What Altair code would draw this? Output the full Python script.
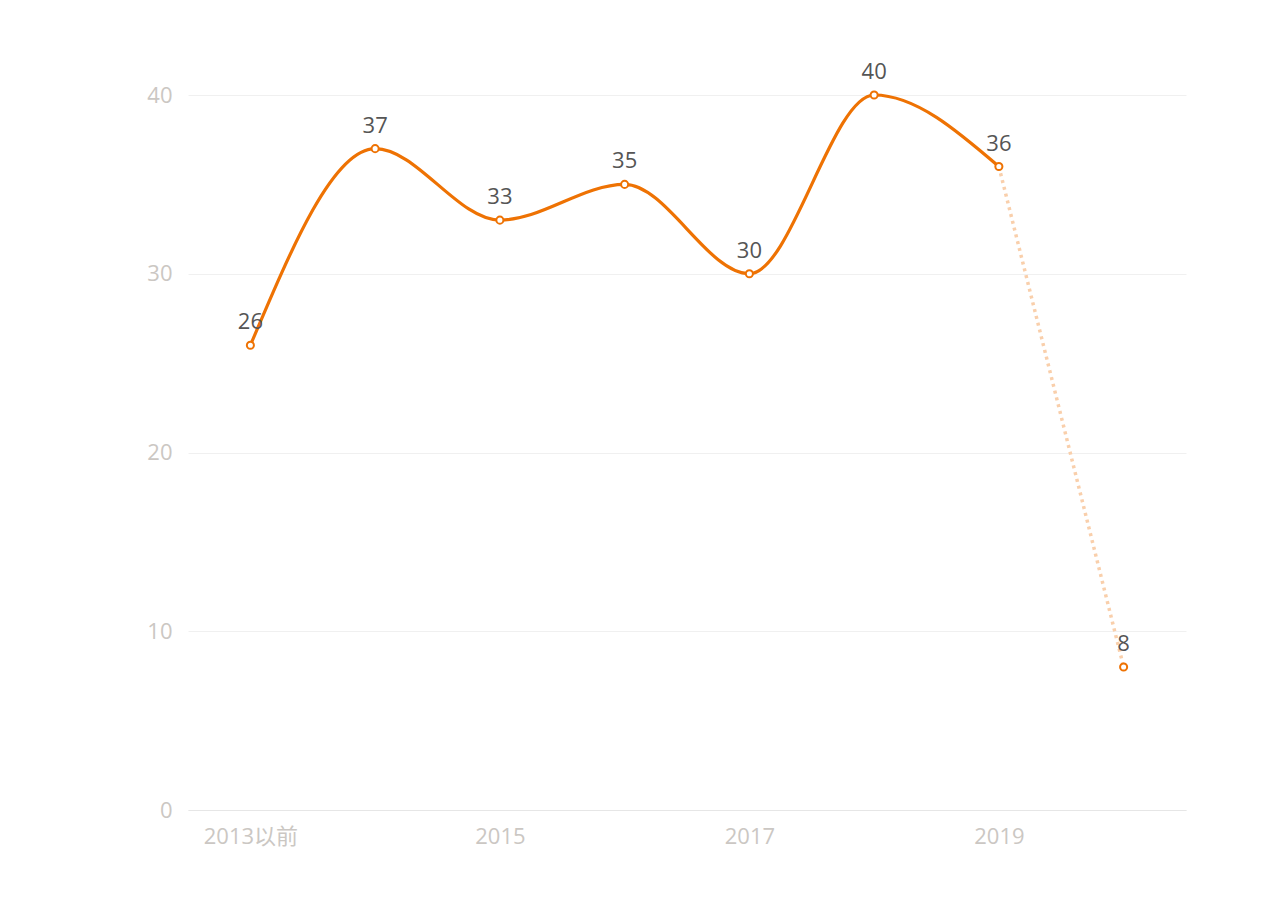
import altair as alt
import pandas as pd

categories = ["2013以前", "2014", "2015", "2016", "2017", "2018", "2019", "2020"]
values = [26, 37, 33, 35, 30, 40, 36, 8]
shown_ticks = ["2013以前", "2015", "2017", "2019"]
y_ticks = [0, 10, 20, 30, 40]

solid_idx = list(range(0, 7))
dotted_idx = [6, 7]

df = pd.DataFrame({"cat": categories, "val": values})
solid = pd.DataFrame({"cat": [categories[i] for i in solid_idx], "val": [values[i] for i in solid_idx]})
dotted = pd.DataFrame({"cat": [categories[i] for i in dotted_idx], "val": [values[i] for i in dotted_idx]})

FONT = "Open Sans, Noto Sans CJK SC"
ORANGE = "#ee7203"
AXIS_GRAY = "#cbc7c3"

x = alt.X("cat:O", sort=categories, title=None,
          axis=alt.Axis(values=shown_ticks, labelAngle=0, labelFontSize=22, labelColor=AXIS_GRAY,
                        labelFont=FONT, ticks=False, domain=True, domainColor="#e6e6e6",
                        labelPadding=16, grid=False))
y = alt.Y("val:Q", title=None, scale=alt.Scale(domain=[0, 40]),
          axis=alt.Axis(values=y_ticks, labelFontSize=22, labelColor=AXIS_GRAY, labelFont=FONT,
                        ticks=False, domain=False, gridColor="#f0f0f0", labelPadding=16))

dotted_line = alt.Chart(dotted).mark_line(
    color="#f9cfab", strokeWidth=3.5, strokeDash=[3, 4]
).encode(x=x, y=y)

solid_line = alt.Chart(solid).mark_line(
    color=ORANGE, strokeWidth=3.2, interpolate="monotone"
).encode(x=x, y=y)

points = alt.Chart(df).mark_point(
    shape="circle", filled=True, fill="white", stroke=ORANGE, strokeWidth=2, size=50, opacity=1
).encode(x=x, y=y)

labels = alt.Chart(df).mark_text(
    fontSize=22, color="#555555", font=FONT, dy=-16, baseline="alphabetic"
).encode(x=x, y=y, text="val:Q")

chart = alt.layer(dotted_line, solid_line, points, labels).properties(
    width=998, height=715,
    padding={"left": 180, "top": 87, "right": 60, "bottom": 60},
    autosize=alt.AutoSizeParams(type="none"),
    background="white",
).configure_view(stroke=None)

chart.save("out.html", embed_options={"renderer": "svg", "actions": False})
